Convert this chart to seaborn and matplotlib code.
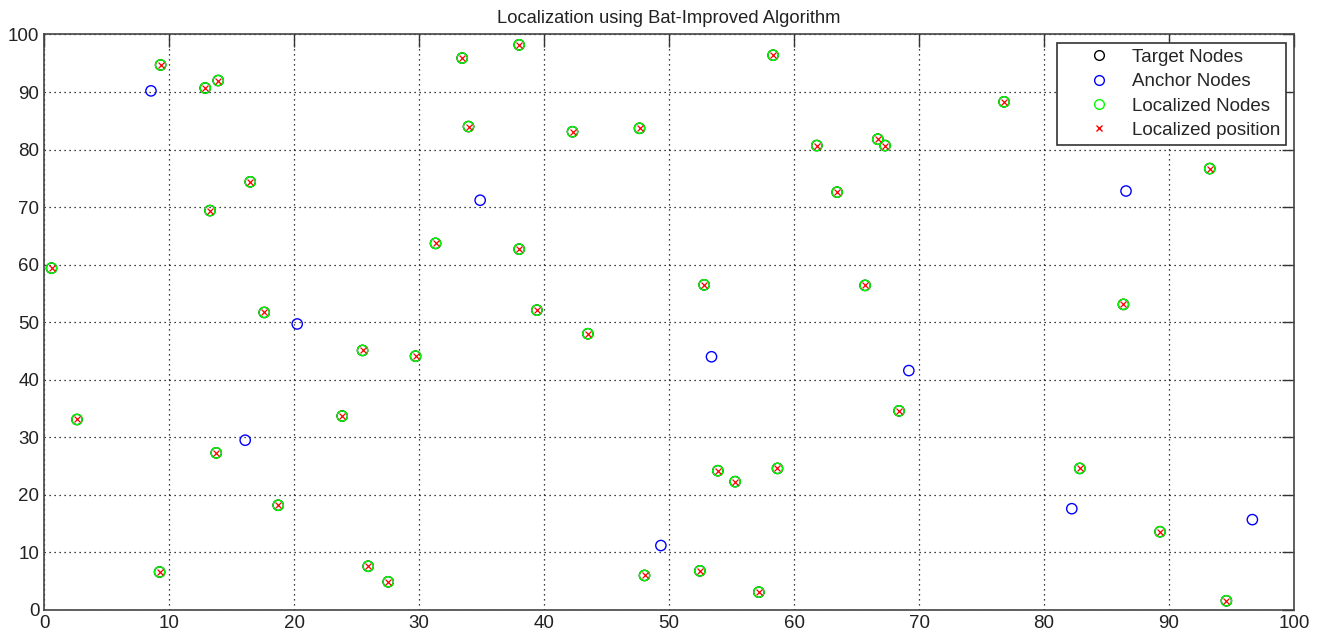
import matplotlib
matplotlib.use("Agg")
import matplotlib.pyplot as plt
import seaborn as sns
from matplotlib.lines import Line2D

sns.set_style("white")
plt.rcParams["font.family"] = ["Liberation Sans", "DejaVu Sans"]

# localized nodes (target nodes sit at the same place, hidden underneath)
loc_x = [0.58, 2.62, 9.23, 9.31, 12.88, 13.92, 13.26, 13.76, 16.48, 17.6,
         18.72, 23.84, 25.47, 25.92, 27.52, 29.71, 31.31, 33.44, 33.95, 38.0,
         38.0, 39.42, 42.27, 43.5, 47.63, 48.03, 52.46, 52.8, 53.9, 55.28,
         57.18, 58.32, 58.67, 61.82, 63.44, 65.68, 66.7, 67.28, 68.4, 76.8,
         82.86, 86.35, 89.28, 93.26, 94.59]
loc_y = [59.4, 33.1, 6.6, 94.7, 90.7, 92.0, 69.4, 27.3, 74.4, 51.7,
         18.2, 33.7, 45.1, 7.6, 4.9, 44.1, 63.7, 95.9, 84.0, 98.2,
         62.7, 52.1, 83.1, 48.0, 83.7, 6.0, 6.8, 56.5, 24.2, 22.3,
         3.1, 96.4, 24.6, 80.7, 72.6, 56.4, 81.8, 80.7, 34.6, 88.3,
         24.6, 53.1, 13.6, 76.7, 1.6]

# anchor nodes
anchor_x = [8.54, 16.08, 20.24, 34.88, 49.34, 53.39, 69.18, 82.22, 86.56, 96.67]
anchor_y = [90.2, 29.5, 49.7, 71.2, 11.2, 44.0, 41.6, 17.6, 72.8, 15.7]

fig = plt.figure(figsize=(13.25, 6.35), dpi=100)
ax = fig.add_axes([0.0334, 0.0394, 0.9432, 0.9063])

sns.scatterplot(x=loc_x, y=loc_y, ax=ax, marker="o", s=55,
                facecolor="none", edgecolor="black", linewidth=1, zorder=2)
sns.scatterplot(x=anchor_x, y=anchor_y, ax=ax, marker="o", s=55,
                facecolor="none", edgecolor="blue", linewidth=1, zorder=3)
sns.scatterplot(x=loc_x, y=loc_y, ax=ax, marker="o", s=55,
                facecolor="none", edgecolor="#00ff00", linewidth=1, zorder=4)
sns.scatterplot(x=loc_x, y=loc_y, ax=ax, marker="x", s=18,
                color="red", linewidth=0.9, zorder=5)

ax.set_xlim(0, 100)
ax.set_ylim(0, 100)
ax.set_xticks(range(0, 101, 10))
ax.set_yticks(range(0, 101, 10))
ax.grid(True, linestyle=(0, (1, 3)), color="black", linewidth=0.9)
ax.tick_params(direction="in", length=9, width=1, labelsize=13.5,
               top=True, right=True, colors="#333333", labelcolor="#222222")
for sp in ax.spines.values():
    sp.set_color("#444444")
    sp.set_linewidth(1.2)

ax.set_title("Localization using Bat-Improved Algorithm", fontsize=13.2,
             color="#222222", pad=8)

handles = [
    Line2D([], [], ls="none", marker="o", mfc="none", mec="black", ms=7),
    Line2D([], [], ls="none", marker="o", mfc="none", mec="blue", ms=7),
    Line2D([], [], ls="none", marker="o", mfc="none", mec="#00ff00", ms=7),
    Line2D([], [], ls="none", marker="x", color="red", ms=4),
]
labels = ["Target Nodes", "Anchor Nodes", "Localized Nodes", "Localized position"]
leg = ax.legend(handles, labels, loc="upper right", fontsize=13.5,
                fancybox=False, framealpha=1, edgecolor="#333333",
                handlelength=3.88, handletextpad=-0.18, labelspacing=0.39,
                borderpad=0.3, borderaxespad=0.45)
leg.get_frame().set_linewidth(1.2)

plt.savefig("out.png", dpi=100)
